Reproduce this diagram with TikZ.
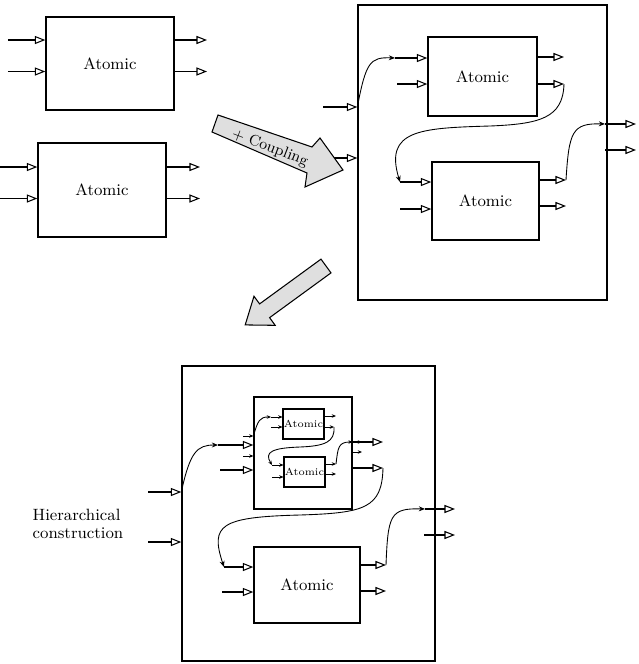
\documentclass[tikz,border=0pt]{standalone}
\usetikzlibrary{arrows.meta}

\tikzset{
  box/.style={draw, line width=0.8pt, inner sep=0pt},
  atomic/.style={box, font=\fontsize{9.3}{11}\selectfont},
  tinyatomic/.style={box, line width=0.6pt, font=\fontsize{5.8}{7}\selectfont},
  port/.style={line width=0.7pt, -{Triangle[open, length=6pt, width=4.6pt, line width=0.6pt]}},
  smallport/.style={line width=0.5pt, -{Stealth[length=2.4pt, width=2pt]}},
  link/.style={line width=0.5pt, -{Stealth[length=3.5pt, width=2.8pt]}},
  blockarrow/.style={fill=gray!25, draw=black, line width=0.6pt, line join=miter}
}

\begin{document}
\begin{tikzpicture}[x=0.02cm, y=-0.02cm]
    \useasboundingbox (0,0) rectangle (639,664);

    % two atomic models
    \node[atomic, minimum width=2.56cm, minimum height=1.86cm] (a1) at (110,63.5) {Atomic};
    \node[atomic, minimum width=2.56cm, minimum height=1.88cm] (a2) at (102,190) {Atomic};
    \foreach \b/\y/\xa/\xb in {a1/40/8/207, a1/71.5/8/207, a2/167/0/200, a2/198.5/0/200} {
        \coordinate (in) at (\xa,\y);
        \coordinate (out) at (\xb,\y);
        \draw[port] (in) -- (in -| \b.west);
        \draw[port] (out -| \b.east) -- (out);
    }

    % coupled model
    \node[box, minimum width=4.98cm, minimum height=5.9cm] (c1) at (482.5,152.5) {};
    \node[atomic, minimum width=2.18cm, minimum height=1.58cm] (b1) at (482.5,76.5) {Atomic};
    \node[atomic, minimum width=2.14cm, minimum height=1.56cm] (b2) at (485.5,201) {Atomic};
    \foreach \n/\x/\y in {b1i1/395/58, b1i2/397/84, b1o1/564/57, b1o2/564/84,
                          b2i1/400/182, b2i2/400/209, b2o1/566/180, b2o2/566/206,
                          c1i1/323/107, c1i2/330/158, c1o1/605/124, c1o2/605/150}
        \coordinate (\n) at (\x,\y);
    \foreach \b in {b1, b2} {
        \draw[port] (\b i1) -- (\b i1 -| \b.west);
        \draw[port] (\b i2) -- (\b i2 -| \b.west);
        \draw[port] (\b o1 -| \b.east) -- (\b o1);
        \draw[port] (\b o2 -| \b.east) -- (\b o2);
    }
    \draw[port] (c1i1) -- (c1i1 -| c1.west);
    \draw[port] (c1i2) -- (c1i2 -| c1.west);
    \draw[port] (c1o1) -- ++(31,0);
    \draw[port] (c1o2) -- ++(31,0);
    \draw[link] (c1i1 -| c1.west) .. controls (366,62) and (370,57) .. (b1i1);
    \draw[link] (b1o2) .. controls (563,118) and (540,124) .. (490,126)
        .. controls (420,128) and (384,130) .. (b2i1);
    \draw[link] (b2o1) .. controls (569,132) and (572,123) .. (c1o1);

    % block arrows
    \fill[blockarrow] (218,115) -- (312,147) -- (320,138) -- (343,170)
        -- (305,187) -- (307,173) -- (212,132) -- cycle;
    \node[rotate=-21, font=\fontsize{8.8}{10}\selectfont] (cpl) at (270,148) {+ Coupling};
    \begin{scope}[shift={(326,266)}, rotate=216.1]
        \fill[blockarrow] (0,-8.5) -- (76,-8.5) -- (76,-18) -- (100,0)
            -- (76,18) -- (76,8.5) -- (0,8.5) -- cycle;
    \end{scope}

    % hierarchical model
    \node[box, minimum width=5.06cm, minimum height=5.9cm] (d) at (308.5,513.5) {};
    \node[box, line width=0.7pt, minimum width=1.96cm, minimum height=2.24cm] (m) at (303,453) {};
    \node[tinyatomic, minimum width=0.82cm, minimum height=0.6cm] (t1) at (303.5,424) {Atomic};
    \node[tinyatomic, minimum width=0.82cm, minimum height=0.6cm] (t2) at (304.5,472) {Atomic};
    \node[atomic, minimum width=2.12cm, minimum height=1.52cm] (e) at (307,585) {Atomic};
    \node[align=left, font=\fontsize{9.3}{10.5}\selectfont, inner sep=0pt] (lbl) at (78,524)
        {Hierarchical\\construction};

    \foreach \n/\x/\y in {t1i1/271/417, t1i2/271/427, t1o1/336/416, t1o2/334/427,
                          t2i1/272/465, t2i2/272/477, t2o1/336/464, t2o2/336/474,
                          mi1/243/436, mi2/243/456, mo1/362/442, mo2/362/452}
        \coordinate (\n) at (\x,\y);
    \foreach \b in {t1, t2} {
        \draw[smallport] (\b i1) -- (\b i1 -| \b.west);
        \draw[smallport] (\b i2) -- (\b i2 -| \b.west);
        \draw[smallport] (\b o1 -| \b.east) -- (\b o1);
        \draw[smallport] (\b o2 -| \b.east) -- (\b o2);
    }
    \draw[smallport] (mi1) -- (mi1 -| m.west);
    \draw[smallport] (mi2) -- (mi2 -| m.west);
    \draw[smallport] (mo1 -| m.east) -- (mo1);
    \draw[smallport] (mo2 -| m.east) -- (mo2);
    \draw[smallport] (mi1 -| m.west) .. controls (258,420) and (260,417) .. (t1i1);
    \draw[smallport] (t1o2) .. controls (335,442) and (325,446) .. (300,447)
        .. controls (272,448) and (264,452) .. (t2i1);
    \draw[smallport] (t2o1) .. controls (338,448) and (338,442) .. (mo1 -| m.east);

    \foreach \n/\x/\y in {ei1/224/567, ei2/222/592, eo1/386/565, eo2/386/591,
                          pi1/218/445, pi2/220/470, po1/383/442, po2/383/468,
                          di1/148/492, di2/148/542, do1/425/509, do2/424/535}
        \coordinate (\n) at (\x,\y);
    \draw[port] (ei1) -- (ei1 -| e.west);
    \draw[port] (ei2) -- (ei2 -| e.west);
    \draw[port] (eo1 -| e.east) -- (eo1);
    \draw[port] (eo2 -| e.east) -- (eo2);
    \draw[port] (pi1) -- (pi1 -| m.west);
    \draw[port] (pi2) -- (pi2 -| m.west);
    \draw[port] (po1 -| m.east) -- (po1);
    \draw[port] (po2 -| m.east) -- (po2);
    \draw[port] (di1) -- (di1 -| d.west);
    \draw[port] (di2) -- (di2 -| d.west);
    \draw[port] (do1) -- ++(30,0);
    \draw[port] (do2) -- ++(31,0);
    \draw[link] (di1 -| d.west) .. controls (190,452) and (197,445) .. (pi1);
    \draw[link] (po2) .. controls (382,508) and (365,513) .. (300,515)
        .. controls (220,517) and (210,525) .. (ei1);
    \draw[link] (eo1) .. controls (388,515) and (390,508) .. (do1);
\end{tikzpicture}
\end{document}
